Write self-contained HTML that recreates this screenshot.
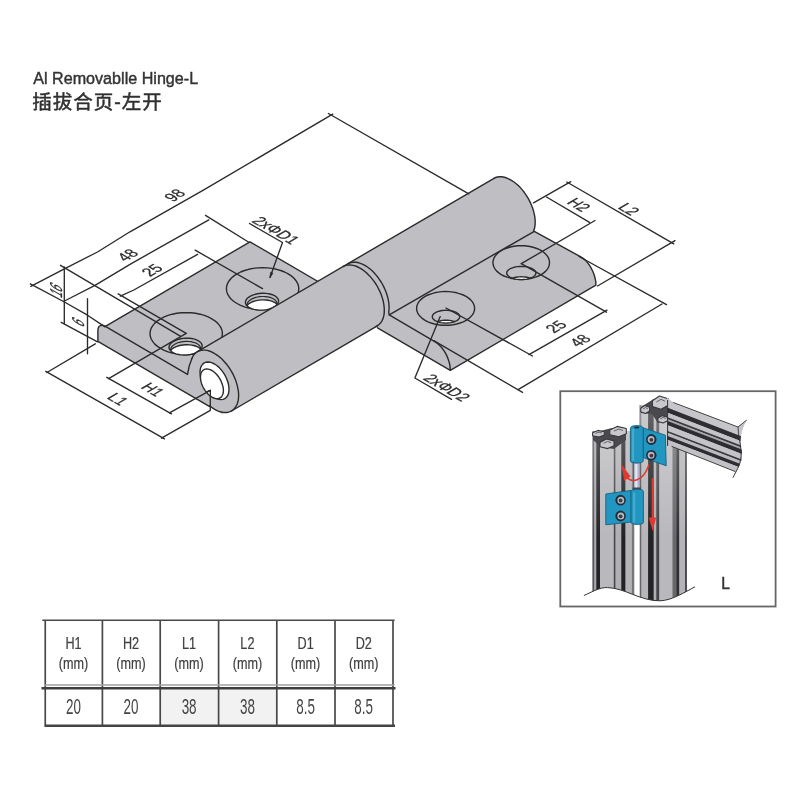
<!DOCTYPE html>
<html><head><meta charset="utf-8"><title>Al Removable Hinge-L</title>
<style>
html,body{margin:0;padding:0;background:#fff;}
body{width:800px;height:800px;overflow:hidden;font-family:"Liberation Sans",sans-serif;}
svg{display:block;filter:blur(0.5px);}
text{font-family:"Liberation Sans",sans-serif;}
</style></head><body>
<svg width="800" height="800" viewBox="0 0 800 800">
<rect width="800" height="800" fill="#fff"/>
<g><text id="ttl" transform="translate(33.2,84.4) scale(0.928,1)" font-size="17.4" fill="#333" stroke="#333" stroke-width="0.45">Al Removablle Hinge-L</text>
<g id="cjk" fill="#303030" stroke="#303030" stroke-width="0.5" stroke-linejoin="round">
<text x="32.3" y="109.1" font-size="19.5" textLength="129.5" lengthAdjust="spacing" style="font-family:'Liberation Sans','Noto Sans CJK SC',sans-serif;">插拔合页-左开</text>
</g></g>
<g><path d="M105.4,326.3 L105.4,326.3 L103.9,325.6 L102.5,325.3 L101.2,325.4 L100.1,325.8 L99.1,326.5 L98.4,327.6 L98.0,329.0 L97.9,330.6 L97.9,341.3 L223.1,414.5 L223.1,395.1 Z" fill="#bfbec3" stroke="none" stroke-width="1.40" stroke-linejoin="round"/>
<path d="M105.4,326.3 L250.0,241.8 L359.1,305.6 L214.5,390.1 Z" fill="#bfbec3" stroke="none" stroke-width="1.40" stroke-linejoin="round"/>
<path d="M187.5,374.4 L105.4,326.3 L105.4,326.3 L103.9,325.6 L102.5,325.3 L101.2,325.4 L100.1,325.8 L99.1,326.5 L98.4,327.6 L98.0,329.0 L97.9,330.6 L97.9,341.3 L209.3,406.4" fill="none" stroke="#2b2b2b" stroke-width="1.40" stroke-linejoin="round" stroke-linecap="round" />
<path d="M105.4,326.3 L250.0,241.8 L341.9,295.5" fill="none" stroke="#2b2b2b" stroke-width="1.40" stroke-linejoin="round" stroke-linecap="round" />
<path d="M222.4,333.6 L222.1,336.3 L221.2,339.0 L219.6,341.6 L217.6,344.1 L214.9,346.4 L211.8,348.4 L208.2,350.3 L204.3,351.8 L200.1,353.0 L195.6,353.9 L190.9,354.4 L186.2,354.6 L181.5,354.4 L176.8,353.9 L172.3,353.0 L168.1,351.8 L164.2,350.3 L160.6,348.4 L157.5,346.4 L154.8,344.1 L152.8,341.6 L151.2,339.0 L150.3,336.3 L150.0,333.6 L150.3,330.9 L151.2,328.2 L152.8,325.6 L154.8,323.1 L157.5,320.8 L160.6,318.8 L164.2,316.9 L168.1,315.4 L172.3,314.2 L176.8,313.3 L181.5,312.8 L186.2,312.6 L190.9,312.8 L195.6,313.3 L200.1,314.2 L204.3,315.4 L208.2,316.9 L211.8,318.8 L214.9,320.8 L217.6,323.1 L219.6,325.6 L221.2,328.2 L222.1,330.9 L222.4,333.6 Z" fill="none" stroke="#2b2b2b" stroke-width="1.40" stroke-linejoin="round" stroke-linecap="round" />
<clipPath id="h1"><path d="M202.2,345.7 L202.1,346.8 L201.7,347.9 L201.1,349.0 L200.2,350.0 L199.0,351.0 L197.6,351.9 L196.0,352.7 L194.3,353.4 L192.3,354.0 L190.3,354.5 L188.2,354.8 L186.0,355.0 L183.9,355.0 L181.7,354.9 L179.7,354.7 L177.7,354.3 L175.9,353.8 L174.2,353.1 L172.7,352.4 L171.5,351.5 L170.5,350.6 L169.7,349.6 L169.2,348.6 L169.0,347.5 L169.1,346.4 L169.5,345.3 L170.1,344.2 L171.0,343.2 L172.2,342.2 L173.6,341.3 L175.2,340.5 L176.9,339.8 L178.9,339.2 L180.9,338.7 L183.0,338.4 L185.2,338.2 L187.3,338.2 L189.5,338.3 L191.5,338.5 L193.5,338.9 L195.3,339.4 L197.0,340.1 L198.5,340.8 L199.7,341.7 L200.7,342.6 L201.5,343.6 L202.0,344.6 L202.2,345.7 Z"/></clipPath>
<path d="M202.2,352.3 L202.1,353.4 L201.7,354.5 L201.1,355.6 L200.2,356.6 L199.0,357.6 L197.6,358.5 L196.0,359.3 L194.3,360.0 L192.3,360.6 L190.3,361.1 L188.2,361.4 L186.0,361.6 L183.9,361.6 L181.7,361.5 L179.7,361.3 L177.7,360.9 L175.9,360.4 L174.2,359.7 L172.7,359.0 L171.5,358.1 L170.5,357.2 L169.7,356.2 L169.2,355.2 L169.0,354.1 L169.1,353.0 L169.5,351.9 L170.1,350.8 L171.0,349.8 L172.2,348.8 L173.6,347.9 L175.2,347.1 L176.9,346.4 L178.9,345.8 L180.9,345.3 L183.0,345.0 L185.2,344.8 L187.3,344.8 L189.5,344.9 L191.5,345.1 L193.5,345.5 L195.3,346.0 L197.0,346.7 L198.5,347.4 L199.7,348.3 L200.7,349.2 L201.5,350.2 L202.0,351.2 L202.2,352.3 Z" fill="#fff" clip-path="url(#h1)" stroke="#2b2b2b" stroke-width="1.40"/>
<path d="M200.6,348.4 L200.5,349.4 L200.2,350.5 L199.6,351.5 L198.8,352.4 L197.7,353.3 L196.5,354.2 L195.0,354.9 L193.4,355.6 L191.7,356.1 L189.9,356.5 L188.0,356.8 L186.0,357.0 L184.0,357.0 L182.1,356.9 L180.2,356.7 L178.5,356.3 L176.8,355.9 L175.3,355.3 L174.0,354.6 L172.8,353.8 L171.9,352.9 L171.2,352.0 L170.8,351.0 L170.6,350.0 L170.7,349.0 L171.0,347.9 L171.6,346.9 L172.4,346.0 L173.5,345.1 L174.7,344.2 L176.2,343.5 L177.8,342.8 L179.5,342.3 L181.3,341.9 L183.2,341.6 L185.2,341.4 L187.2,341.4 L189.1,341.5 L191.0,341.7 L192.7,342.1 L194.4,342.5 L195.9,343.1 L197.2,343.8 L198.4,344.6 L199.3,345.5 L200.0,346.4 L200.4,347.4 L200.6,348.4 Z" fill="none" clip-path="url(#h1)" stroke="#2b2b2b" stroke-width="1.19"/>
<path d="M202.2,345.7 L202.1,346.8 L201.7,347.9 L201.1,349.0 L200.2,350.0 L199.0,351.0 L197.6,351.9 L196.0,352.7 L194.3,353.4 L192.3,354.0 L190.3,354.5 L188.2,354.8 L186.0,355.0 L183.9,355.0 L181.7,354.9 L179.7,354.7 L177.7,354.3 L175.9,353.8 L174.2,353.1 L172.7,352.4 L171.5,351.5 L170.5,350.6 L169.7,349.6 L169.2,348.6 L169.0,347.5 L169.1,346.4 L169.5,345.3 L170.1,344.2 L171.0,343.2 L172.2,342.2 L173.6,341.3 L175.2,340.5 L176.9,339.8 L178.9,339.2 L180.9,338.7 L183.0,338.4 L185.2,338.2 L187.3,338.2 L189.5,338.3 L191.5,338.5 L193.5,338.9 L195.3,339.4 L197.0,340.1 L198.5,340.8 L199.7,341.7 L200.7,342.6 L201.5,343.6 L202.0,344.6 L202.2,345.7 Z" fill="none" stroke="#2b2b2b" stroke-width="1.40" stroke-linejoin="round" stroke-linecap="round" />
<path d="M298.8,288.7 L298.5,291.4 L297.6,294.1 L296.0,296.7 L294.0,299.2 L291.3,301.5 L288.2,303.5 L284.6,305.4 L280.7,306.9 L276.5,308.1 L272.0,309.0 L267.3,309.5 L262.6,309.7 L257.9,309.5 L253.2,309.0 L248.7,308.1 L244.5,306.9 L240.6,305.4 L237.0,303.5 L233.9,301.5 L231.2,299.2 L229.2,296.7 L227.6,294.1 L226.7,291.4 L226.4,288.7 L226.7,286.0 L227.6,283.3 L229.2,280.7 L231.2,278.2 L233.9,275.9 L237.0,273.9 L240.6,272.0 L244.5,270.5 L248.7,269.3 L253.2,268.4 L257.9,267.9 L262.6,267.7 L267.3,267.9 L272.0,268.4 L276.5,269.3 L280.7,270.5 L284.6,272.0 L288.2,273.9 L291.3,275.9 L294.0,278.2 L296.0,280.7 L297.6,283.3 L298.5,286.0 L298.8,288.7 Z" fill="none" stroke="#2b2b2b" stroke-width="1.40" stroke-linejoin="round" stroke-linecap="round" />
<clipPath id="h2"><path d="M278.6,300.8 L278.5,301.9 L278.1,303.0 L277.5,304.1 L276.6,305.1 L275.4,306.1 L274.0,307.0 L272.4,307.8 L270.7,308.5 L268.7,309.1 L266.7,309.6 L264.6,309.9 L262.4,310.1 L260.3,310.1 L258.1,310.0 L256.1,309.8 L254.1,309.4 L252.3,308.9 L250.6,308.2 L249.1,307.5 L247.9,306.6 L246.9,305.7 L246.1,304.7 L245.6,303.7 L245.4,302.6 L245.5,301.5 L245.9,300.4 L246.5,299.3 L247.4,298.3 L248.6,297.3 L250.0,296.4 L251.6,295.6 L253.3,294.9 L255.3,294.3 L257.3,293.8 L259.4,293.5 L261.6,293.3 L263.7,293.3 L265.9,293.4 L267.9,293.6 L269.9,294.0 L271.7,294.5 L273.4,295.2 L274.9,295.9 L276.1,296.8 L277.1,297.7 L277.9,298.7 L278.4,299.7 L278.6,300.8 Z"/></clipPath>
<path d="M278.6,307.4 L278.5,308.5 L278.1,309.6 L277.5,310.7 L276.6,311.7 L275.4,312.7 L274.0,313.6 L272.4,314.4 L270.7,315.1 L268.7,315.7 L266.7,316.2 L264.6,316.5 L262.4,316.7 L260.3,316.7 L258.1,316.6 L256.1,316.4 L254.1,316.0 L252.3,315.5 L250.6,314.8 L249.1,314.1 L247.9,313.2 L246.9,312.3 L246.1,311.3 L245.6,310.3 L245.4,309.2 L245.5,308.1 L245.9,307.0 L246.5,305.9 L247.4,304.9 L248.6,303.9 L250.0,303.0 L251.6,302.2 L253.3,301.5 L255.3,300.9 L257.3,300.4 L259.4,300.1 L261.6,299.9 L263.7,299.9 L265.9,300.0 L267.9,300.2 L269.9,300.6 L271.7,301.1 L273.4,301.8 L274.9,302.5 L276.1,303.4 L277.1,304.3 L277.9,305.3 L278.4,306.3 L278.6,307.4 Z" fill="#fff" clip-path="url(#h2)" stroke="#2b2b2b" stroke-width="1.40"/>
<path d="M277.0,303.5 L276.9,304.5 L276.6,305.6 L276.0,306.6 L275.2,307.5 L274.1,308.4 L272.9,309.3 L271.4,310.0 L269.8,310.7 L268.1,311.2 L266.3,311.6 L264.4,311.9 L262.4,312.1 L260.4,312.1 L258.5,312.0 L256.6,311.8 L254.9,311.4 L253.2,311.0 L251.7,310.4 L250.4,309.7 L249.2,308.9 L248.3,308.0 L247.6,307.1 L247.2,306.1 L247.0,305.1 L247.1,304.1 L247.4,303.0 L248.0,302.0 L248.8,301.1 L249.9,300.2 L251.1,299.3 L252.6,298.6 L254.2,297.9 L255.9,297.4 L257.7,297.0 L259.6,296.7 L261.6,296.5 L263.6,296.5 L265.5,296.6 L267.4,296.8 L269.1,297.2 L270.8,297.6 L272.3,298.2 L273.6,298.9 L274.8,299.7 L275.7,300.6 L276.4,301.5 L276.8,302.5 L277.0,303.5 Z" fill="none" clip-path="url(#h2)" stroke="#2b2b2b" stroke-width="1.19"/>
<path d="M278.6,300.8 L278.5,301.9 L278.1,303.0 L277.5,304.1 L276.6,305.1 L275.4,306.1 L274.0,307.0 L272.4,307.8 L270.7,308.5 L268.7,309.1 L266.7,309.6 L264.6,309.9 L262.4,310.1 L260.3,310.1 L258.1,310.0 L256.1,309.8 L254.1,309.4 L252.3,308.9 L250.6,308.2 L249.1,307.5 L247.9,306.6 L246.9,305.7 L246.1,304.7 L245.6,303.7 L245.4,302.6 L245.5,301.5 L245.9,300.4 L246.5,299.3 L247.4,298.3 L248.6,297.3 L250.0,296.4 L251.6,295.6 L253.3,294.9 L255.3,294.3 L257.3,293.8 L259.4,293.5 L261.6,293.3 L263.7,293.3 L265.9,293.4 L267.9,293.6 L269.9,294.0 L271.7,294.5 L273.4,295.2 L274.9,295.9 L276.1,296.8 L277.1,297.7 L277.9,298.7 L278.4,299.7 L278.6,300.8 Z" fill="none" stroke="#2b2b2b" stroke-width="1.40" stroke-linejoin="round" stroke-linecap="round" />
<path d="M389.2,314.8 L534.3,231.3 L580.8,256.8 L580.8,256.8 L583.2,258.4 L585.5,260.4 L587.7,262.9 L589.7,265.7 L591.5,268.7 L593.1,272.0 L594.3,275.3 L595.2,278.7 L595.8,282.0 L595.9,285.2 L450.3,370.3 L374.1,325.8 L374.1,306.2 Z" fill="#bfbec3" stroke="none" stroke-width="1.40" stroke-linejoin="round"/>
<path d="M534.3,231.3 L580.8,256.8 L580.8,256.8 L583.2,258.4 L585.5,260.4 L587.7,262.9 L589.7,265.7 L591.5,268.7 L593.1,272.0 L594.3,275.3 L595.2,278.7 L595.8,282.0 L595.9,285.2 L450.3,370.3 L377.5,327.8" fill="none" stroke="#2b2b2b" stroke-width="1.40" stroke-linejoin="round" stroke-linecap="round" />
<path d="M389.2,314.8 L435.2,341.9 L435.2,341.9 L437.5,343.5 L439.9,345.6 L442.0,348.0 L444.1,350.8 L445.9,353.9 L447.4,357.1 L448.6,360.4 L449.6,363.8 L450.1,367.1 L450.3,370.3" fill="none" stroke="#2b2b2b" stroke-width="1.40" stroke-linejoin="round" stroke-linecap="round" />
<path d="M474.6,308.4 L474.4,310.6 L473.6,312.8 L472.4,314.9 L470.7,316.8 L468.6,318.7 L466.1,320.4 L463.3,321.8 L460.1,323.0 L456.7,324.0 L453.1,324.7 L449.4,325.2 L445.6,325.3 L441.8,325.2 L438.1,324.7 L434.5,324.0 L431.1,323.0 L427.9,321.8 L425.1,320.4 L422.6,318.7 L420.5,316.8 L418.8,314.9 L417.6,312.8 L416.8,310.6 L416.6,308.4 L416.8,306.2 L417.6,304.0 L418.8,301.9 L420.5,299.9 L422.6,298.1 L425.1,296.4 L427.9,295.0 L431.1,293.8 L434.5,292.8 L438.1,292.1 L441.8,291.6 L445.6,291.5 L449.4,291.6 L453.1,292.1 L456.7,292.8 L460.1,293.8 L463.3,295.0 L466.1,296.4 L468.6,298.1 L470.7,299.9 L472.4,301.9 L473.6,304.0 L474.4,306.2 L474.6,308.4 Z" fill="none" stroke="#2b2b2b" stroke-width="1.40" stroke-linejoin="round" stroke-linecap="round" />
<clipPath id="h3"><path d="M459.7,316.7 L459.6,317.5 L459.2,318.4 L458.7,319.1 L457.9,319.9 L456.9,320.6 L455.7,321.2 L454.3,321.8 L452.9,322.2 L451.2,322.6 L449.5,322.9 L447.8,323.0 L446.0,323.1 L444.2,323.0 L442.5,322.9 L440.8,322.6 L439.1,322.2 L437.7,321.8 L436.3,321.2 L435.1,320.6 L434.1,319.9 L433.3,319.1 L432.8,318.4 L432.4,317.5 L432.3,316.7 L432.4,315.9 L432.8,315.0 L433.3,314.3 L434.1,313.5 L435.1,312.8 L436.3,312.2 L437.7,311.6 L439.1,311.2 L440.8,310.8 L442.5,310.5 L444.2,310.4 L446.0,310.3 L447.8,310.4 L449.5,310.5 L451.2,310.8 L452.9,311.2 L454.3,311.6 L455.7,312.2 L456.9,312.8 L457.9,313.5 L458.7,314.3 L459.2,315.0 L459.6,315.9 L459.7,316.7 Z"/></clipPath>
<path d="M459.7,326.6 L459.6,327.4 L459.2,328.3 L458.7,329.0 L457.9,329.8 L456.9,330.5 L455.7,331.1 L454.3,331.7 L452.9,332.1 L451.2,332.5 L449.5,332.8 L447.8,332.9 L446.0,333.0 L444.2,332.9 L442.5,332.8 L440.8,332.5 L439.1,332.1 L437.7,331.7 L436.3,331.1 L435.1,330.5 L434.1,329.8 L433.3,329.0 L432.8,328.3 L432.4,327.4 L432.3,326.6 L432.4,325.8 L432.8,324.9 L433.3,324.2 L434.1,323.4 L435.1,322.7 L436.3,322.1 L437.7,321.5 L439.1,321.1 L440.8,320.7 L442.5,320.4 L444.2,320.3 L446.0,320.2 L447.8,320.3 L449.5,320.4 L451.2,320.7 L452.9,321.1 L454.3,321.5 L455.7,322.1 L456.9,322.7 L457.9,323.4 L458.7,324.2 L459.2,324.9 L459.6,325.8 L459.7,326.6 Z" fill="#fff" clip-path="url(#h3)" stroke="#2b2b2b" stroke-width="1.40"/>
<path d="M459.7,316.7 L459.6,317.5 L459.2,318.4 L458.7,319.1 L457.9,319.9 L456.9,320.6 L455.7,321.2 L454.3,321.8 L452.9,322.2 L451.2,322.6 L449.5,322.9 L447.8,323.0 L446.0,323.1 L444.2,323.0 L442.5,322.9 L440.8,322.6 L439.1,322.2 L437.7,321.8 L436.3,321.2 L435.1,320.6 L434.1,319.9 L433.3,319.1 L432.8,318.4 L432.4,317.5 L432.3,316.7 L432.4,315.9 L432.8,315.0 L433.3,314.3 L434.1,313.5 L435.1,312.8 L436.3,312.2 L437.7,311.6 L439.1,311.2 L440.8,310.8 L442.5,310.5 L444.2,310.4 L446.0,310.3 L447.8,310.4 L449.5,310.5 L451.2,310.8 L452.9,311.2 L454.3,311.6 L455.7,312.2 L456.9,312.8 L457.9,313.5 L458.7,314.3 L459.2,315.0 L459.6,315.9 L459.7,316.7 Z" fill="none" stroke="#2b2b2b" stroke-width="1.40" stroke-linejoin="round" stroke-linecap="round" />
<path d="M549.5,262.6 L549.3,264.8 L548.6,267.0 L547.4,269.1 L545.8,271.1 L543.7,272.9 L541.3,274.6 L538.5,276.0 L535.4,277.2 L532.1,278.2 L528.6,278.9 L524.9,279.4 L521.2,279.5 L517.6,279.4 L513.9,278.9 L510.4,278.2 L507.1,277.2 L504.0,276.0 L501.2,274.6 L498.8,272.9 L496.7,271.1 L495.1,269.1 L493.9,267.0 L493.2,264.8 L492.9,262.6 L493.2,260.4 L493.9,258.2 L495.1,256.1 L496.7,254.2 L498.8,252.3 L501.2,250.6 L504.0,249.2 L507.1,248.0 L510.4,247.0 L513.9,246.3 L517.6,245.8 L521.2,245.7 L524.9,245.8 L528.6,246.3 L532.1,247.0 L535.4,248.0 L538.5,249.2 L541.3,250.6 L543.7,252.3 L545.8,254.2 L547.4,256.1 L548.6,258.2 L549.3,260.4 L549.5,262.6 Z" fill="none" stroke="#2b2b2b" stroke-width="1.40" stroke-linejoin="round" stroke-linecap="round" />
<clipPath id="h4"><path d="M535.9,273.0 L535.8,273.9 L535.4,274.7 L534.8,275.5 L533.9,276.3 L532.9,277.0 L531.6,277.7 L530.2,278.2 L528.6,278.7 L526.9,279.1 L525.1,279.4 L523.2,279.5 L521.3,279.6 L519.4,279.5 L517.5,279.4 L515.7,279.1 L514.0,278.7 L512.4,278.2 L511.0,277.7 L509.7,277.0 L508.7,276.3 L507.8,275.5 L507.2,274.7 L506.8,273.9 L506.7,273.0 L506.8,272.1 L507.2,271.3 L507.8,270.5 L508.7,269.7 L509.7,269.0 L511.0,268.3 L512.4,267.8 L514.0,267.3 L515.7,266.9 L517.5,266.6 L519.4,266.5 L521.3,266.4 L523.2,266.5 L525.1,266.6 L526.9,266.9 L528.6,267.3 L530.2,267.8 L531.6,268.3 L532.9,269.0 L533.9,269.7 L534.8,270.5 L535.4,271.3 L535.8,272.1 L535.9,273.0 Z"/></clipPath>
<path d="M535.9,283.4 L535.8,284.3 L535.4,285.1 L534.8,285.9 L533.9,286.7 L532.9,287.4 L531.6,288.1 L530.2,288.6 L528.6,289.1 L526.9,289.5 L525.1,289.8 L523.2,289.9 L521.3,290.0 L519.4,289.9 L517.5,289.8 L515.7,289.5 L514.0,289.1 L512.4,288.6 L511.0,288.1 L509.7,287.4 L508.7,286.7 L507.8,285.9 L507.2,285.1 L506.8,284.3 L506.7,283.4 L506.8,282.5 L507.2,281.7 L507.8,280.9 L508.7,280.1 L509.7,279.4 L511.0,278.7 L512.4,278.2 L514.0,277.7 L515.7,277.3 L517.5,277.0 L519.4,276.9 L521.3,276.8 L523.2,276.9 L525.1,277.0 L526.9,277.3 L528.6,277.7 L530.2,278.2 L531.6,278.7 L532.9,279.4 L533.9,280.1 L534.8,280.9 L535.4,281.7 L535.8,282.5 L535.9,283.4 Z" fill="#fff" clip-path="url(#h4)" stroke="#2b2b2b" stroke-width="1.40"/>
<path d="M535.9,273.0 L535.8,273.9 L535.4,274.7 L534.8,275.5 L533.9,276.3 L532.9,277.0 L531.6,277.7 L530.2,278.2 L528.6,278.7 L526.9,279.1 L525.1,279.4 L523.2,279.5 L521.3,279.6 L519.4,279.5 L517.5,279.4 L515.7,279.1 L514.0,278.7 L512.4,278.2 L511.0,277.7 L509.7,277.0 L508.7,276.3 L507.8,275.5 L507.2,274.7 L506.8,273.9 L506.7,273.0 L506.8,272.1 L507.2,271.3 L507.8,270.5 L508.7,269.7 L509.7,269.0 L511.0,268.3 L512.4,267.8 L514.0,267.3 L515.7,266.9 L517.5,266.6 L519.4,266.5 L521.3,266.4 L523.2,266.5 L525.1,266.6 L526.9,266.9 L528.6,267.3 L530.2,267.8 L531.6,268.3 L532.9,269.0 L533.9,269.7 L534.8,270.5 L535.4,271.3 L535.8,272.1 L535.9,273.0 Z" fill="none" stroke="#2b2b2b" stroke-width="1.40" stroke-linejoin="round" stroke-linecap="round" />
<path d="M197.5,351.6 L195.8,352.8 L194.3,354.3 L193.0,356.1 L192.0,358.2 L191.2,360.5 L190.7,363.0 L190.4,365.8 L190.4,368.7 L190.7,371.8 L191.2,374.9 L192.0,378.2 L193.0,381.4 L194.3,384.7 L195.8,387.9 L197.5,391.1 L199.3,394.1 L201.4,397.0 L203.6,399.8 L205.9,402.3 L208.3,404.6 L210.7,406.7 L213.2,408.4 L215.8,409.9 L218.3,411.1 L220.7,411.9 L223.1,412.4 L225.4,412.5 L227.6,412.4 L229.7,411.8 L231.5,411.0 L377.3,325.8 L379.0,324.6 L380.4,323.1 L381.7,321.3 L382.7,319.3 L383.5,317.0 L384.0,314.4 L384.3,311.7 L384.3,308.7 L384.0,305.7 L383.5,302.5 L382.7,299.3 L381.7,296.0 L380.4,292.7 L379.0,289.5 L377.3,286.4 L375.4,283.3 L373.4,280.4 L371.2,277.7 L368.9,275.1 L366.5,272.8 L364.0,270.8 L361.5,269.0 L359.0,267.5 L356.5,266.4 L354.0,265.5 L351.6,265.0 L349.3,264.9 L347.1,265.1 L345.1,265.6 L343.2,266.5 Z" fill="#bfbec3" stroke="none" stroke-width="1.40" stroke-linejoin="round"/>
<path d="M342.3,267.0 L343.9,266.2 L345.5,265.7 L347.2,265.4 L349.0,265.4 L350.9,265.6 L352.9,266.0 L354.9,266.6 L356.9,267.5 L359.0,268.5 L361.1,269.8 L363.1,271.3 L365.1,272.9 L367.1,274.7 L369.0,276.7 L370.9,278.8 L372.6,281.1 L374.3,283.5 L375.9,285.9 L377.3,288.5 L378.6,291.1 L379.8,293.7 L380.8,296.4 L381.7,299.1 L382.4,301.7 L382.9,304.3 L383.3,306.9 L383.4,309.4 L383.4,311.8 L383.3,314.1 L382.9,316.2 L389.2,314.8 L534.3,231.3 L533.6,231.1 L534.3,229.1 L534.8,227.0 L535.1,224.6 L535.2,222.2 L535.1,219.6 L534.8,216.9 L534.3,214.2 L533.6,211.4 L532.8,208.5 L531.7,205.7 L530.5,202.9 L529.1,200.1 L527.6,197.4 L526.0,194.8 L524.2,192.3 L522.3,189.9 L520.3,187.6 L518.3,185.6 L516.2,183.7 L514.0,182.0 L511.8,180.6 L509.6,179.3 L507.5,178.3 L505.3,177.5 L503.2,177.0 L501.2,176.8 L499.3,176.8 L497.4,177.0 L495.7,177.5 L494.0,178.3 Z" fill="#bfbec3" stroke="none" stroke-width="1.40" stroke-linejoin="round"/>
<path d="M197.5,351.6 L494.0,178.3" fill="none" stroke="#2b2b2b" stroke-width="1.40" stroke-linejoin="round" stroke-linecap="round" />
<path d="M231.5,411.0 L377.3,325.8" fill="none" stroke="#2b2b2b" stroke-width="1.40" stroke-linejoin="round" stroke-linecap="round" />
<path d="M534.3,231.3 L533.6,231.1 L534.3,229.1 L534.8,227.0 L535.1,224.6 L535.2,222.2 L535.1,219.6 L534.8,216.9 L534.3,214.2 L533.6,211.4 L532.8,208.5 L531.7,205.7 L530.5,202.9 L529.1,200.1 L527.6,197.4 L526.0,194.8 L524.2,192.3 L522.3,189.9 L520.3,187.6 L518.3,185.6 L516.2,183.7 L514.0,182.0 L511.8,180.6 L509.6,179.3 L507.5,178.3 L505.3,177.5 L503.2,177.0 L501.2,176.8 L499.3,176.8 L497.4,177.0 L495.7,177.5 L494.0,178.3" fill="none" stroke="#2b2b2b" stroke-width="1.40" stroke-linejoin="round" stroke-linecap="round" />
<path d="M375.7,326.6 L377.6,325.6 L379.3,324.3 L380.8,322.7 L382.0,320.8 L383.0,318.6 L383.7,316.1 L384.2,313.4 L384.3,310.5 L384.2,307.5 L383.8,304.3 L383.2,301.0 L382.2,297.6 L381.1,294.3 L379.6,290.9 L378.0,287.7 L376.2,284.5 L374.1,281.4 L371.9,278.6 L369.6,275.9 L367.1,273.4 L364.6,271.3 L362.1,269.4 L359.5,267.8 L356.9,266.5 L354.3,265.6 L351.9,265.1 L349.5,264.9 L347.2,265.1 L345.1,265.6 L343.2,266.5" fill="none" stroke="#2b2b2b" stroke-width="1.40" stroke-linejoin="round" stroke-linecap="round" />
<path d="M389.2,314.8 L388.7,312.1 L389.0,309.9 L389.1,307.6 L389.0,305.2 L388.8,302.7 L388.3,300.2 L387.8,297.6 L387.0,295.0 L386.1,292.3 L385.1,289.7 L383.9,287.1 L382.6,284.5 L381.1,282.0 L379.5,279.6 L377.9,277.3 L376.1,275.1 L374.3,273.0 L372.4,271.1 L370.4,269.3 L368.4,267.7 L366.4,266.3 L364.4,265.1 L362.3,264.1 L360.3,263.3 L358.4,262.7 L356.4,262.3 L354.6,262.1 L352.8,262.2 L351.1,262.5 L349.5,263.0 L348.0,263.7" fill="none" stroke="#2b2b2b" stroke-width="1.40" stroke-linejoin="round" stroke-linecap="round" />
<line x1="389.2" y1="314.8" x2="534.3" y2="231.3" stroke="#2b2b2b" stroke-width="1.40" />
<path d="M191.9,358.5 L188.3,366.5 L187.5,374.4 L192.0,376.0 L193.0,362.0 Z" fill="#bfbec3" stroke="none" stroke-width="1.40" stroke-linejoin="round"/>
<path d="M209.5,405.7 L211.7,407.3 L213.9,408.8 L216.1,410.1 L218.3,411.1 L220.4,411.8 L222.5,412.3 L224.6,412.5 L226.5,412.5 L228.4,412.2 L230.1,411.7 L231.7,410.9 L233.2,409.8 L234.5,408.5 L235.6,407.0 L236.6,405.3 L237.4,403.4 L238.0,401.3 L238.4,399.0 L238.6,396.6 L238.6,394.0 L238.4,391.3 L237.9,388.6 L237.3,385.8 L236.5,382.9 L235.6,380.1 L234.4,377.2 L233.1,374.4 L231.6,371.7 L230.0,369.0 L228.2,366.4 L226.4,364.0 L224.4,361.7 L222.4,359.5 L220.3,357.6 L218.1,355.8 L215.9,354.3 L213.7,353.0 L211.5,351.9 L209.3,351.0 L207.2,350.4 L205.1,350.1 L203.2,350.1 L201.3,350.3 L199.5,350.7 L197.8,351.4 L196.3,352.4 L194.9,353.6 L193.7,355.0 L192.7,356.7 L191.9,358.5" fill="none" stroke="#2b2b2b" stroke-width="1.40" stroke-linejoin="round" stroke-linecap="round" />
<path d="M191.9,358.5 Q188.6,366 187.5,374.4" fill="none" stroke="#2b2b2b" stroke-width="1.40" stroke-linejoin="round" stroke-linecap="round" />
<path d="M229.0,389.3 L228.8,386.5 L228.3,383.7 L227.4,380.7 L226.2,377.8 L224.8,374.9 L223.0,372.2 L221.1,369.7 L219.0,367.4 L216.8,365.5 L214.5,364.0 L212.2,362.9 L210.0,362.2 L207.9,362.0 L206.0,362.2 L204.2,362.9 L202.8,364.1 L201.6,365.6 L200.7,367.5 L200.2,369.8 L200.0,372.3 L200.2,375.1 L200.7,377.9 L201.6,380.9 L202.8,383.8 L204.2,386.7 L206.0,389.4 L207.9,391.9 L210.0,394.2 L212.2,396.1 L214.5,397.6 L216.8,398.7 L219.0,399.4 L221.1,399.6 L223.0,399.4 L224.8,398.7 L226.2,397.5 L227.4,396.0 L228.3,394.1 L228.8,391.8 L229.0,389.3 Z" fill="#fff" stroke="#2b2b2b" stroke-width="1.40" stroke-linejoin="round" stroke-linecap="round" />
<path d="M223.4,390.5 L223.3,388.4 L222.8,386.1 L222.1,383.8 L221.2,381.4 L220.0,379.2 L218.7,377.0 L217.1,375.0 L215.5,373.2 L213.7,371.7 L211.9,370.5 L210.1,369.6 L208.4,369.1 L206.7,368.9 L205.2,369.1 L203.8,369.7 L202.6,370.6 L201.7,371.8 L201.0,373.3 L200.6,375.1 L200.4,377.1 L200.6,379.3 L201.0,381.5 L201.7,383.9 L202.6,386.2 L203.8,388.5 L205.2,390.6 L206.7,392.6 L208.4,394.4 L210.1,395.9 L211.9,397.1 L213.7,398.0 L215.5,398.5 L217.1,398.7 L218.7,398.5 L220.0,398.0 L221.2,397.1 L222.1,395.8 L222.8,394.3 L223.3,392.5 L223.4,390.5 Z" fill="#fff" stroke="#2b2b2b" stroke-width="1.40" stroke-linejoin="round" stroke-linecap="round" /></g>
<g><g fill="none" stroke="#2b2b2b" stroke-width="1.35" stroke-linecap="round" stroke-linejoin="round">
<polyline points="30.8,286.3 64.4,268.9 97.5,252.0 130.0,231.8 203.8,189.9 332.7,114.2"/>
<line x1="328.4" y1="113.5" x2="468.8" y2="193.8"/>
<polyline points="30.3,283.9 64.4,302.0 87.5,315.2 105.0,326.9"/>
<line x1="64.3" y1="267.0" x2="64.3" y2="323.5"/>
<line x1="87.5" y1="298.7" x2="87.5" y2="353.8"/>
<line x1="60.5" y1="265.3" x2="180.3" y2="336.2"/>
<polyline points="63.5,301.5 95.0,285.4 130.0,264.3 208.8,219.9"/>
<line x1="205.5" y1="215.4" x2="248.8" y2="242.2"/>
<polyline points="120.4,296.1 133.8,290.0 197.6,254.4"/>
<line x1="118.2" y1="293.8" x2="186.2" y2="333.3"/>
<line x1="195.2" y1="250.2" x2="262.5" y2="288.6"/>
<line x1="61.2" y1="322.3" x2="97.5" y2="341.9"/>
<polyline points="108.6,378.7 186.2,333.4"/>
<line x1="106.8" y1="377.3" x2="171.5" y2="413.8"/>
<polyline points="169.5,412.8 210.3,390.3 210.3,410.3 161.5,438.2"/>
<line x1="206.5" y1="391.8" x2="210.3" y2="390.3"/>
<line x1="45.8" y1="371.3" x2="164.5" y2="438.9"/>
<line x1="46.9" y1="372.5" x2="95.3" y2="343.8"/>
<line x1="533.5" y1="202.8" x2="570.8" y2="181.6"/>
<line x1="566.8" y1="182.0" x2="673.8" y2="243.8"/>
<line x1="546.5" y1="197.0" x2="589.5" y2="222.3"/>
<line x1="595.0" y1="220.5" x2="521.3" y2="263.7"/>
<line x1="675.0" y1="240.6" x2="597.5" y2="286.0"/>
<line x1="521.3" y1="263.7" x2="606.5" y2="312.2"/>
<line x1="579.0" y1="256.5" x2="666.5" y2="304.6"/>
<line x1="607.0" y1="310.2" x2="529.0" y2="354.6"/>
<line x1="446.0" y1="308.0" x2="532.5" y2="356.0"/>
<line x1="662.0" y1="304.0" x2="518.5" y2="389.4"/>
<line x1="433.8" y1="340.6" x2="522.5" y2="392.3"/>
<polyline points="440.2,316.6 414.9,378.0 451.5,399.4"/>
<polyline points="270.0,277.5 282.5,242.5 249.5,223.5"/>
</g>
<path d="M270.0,277.5 L272.9,273.2 L270.6,272.4 Z" fill="#2b2b2b" stroke="#2b2b2b" stroke-width="0.8"/>
<text transform="matrix(0.760,-0.444,0.863,0.505,179.6,198.1)" font-size="16.5" class="lbl" text-anchor="middle" fill="#2e2e2e" stroke="#2e2e2e" stroke-width="0.3" >98</text>
<text transform="matrix(0.760,-0.444,0.863,0.505,132.5,258.0)" font-size="16.5" class="lbl" text-anchor="middle" fill="#2e2e2e" stroke="#2e2e2e" stroke-width="0.3" >48</text>
<text transform="matrix(0.760,-0.444,0.863,0.505,157.0,273.0)" font-size="16.5" class="lbl" text-anchor="middle" fill="#2e2e2e" stroke="#2e2e2e" stroke-width="0.3" >25</text>
<text transform="matrix(0.760,-0.444,0.863,0.505,560.9,329.5)" font-size="16.5" class="lbl" text-anchor="middle" fill="#2e2e2e" stroke="#2e2e2e" stroke-width="0.3" >25</text>
<text transform="matrix(0.760,-0.444,0.863,0.505,584.9,343.5)" font-size="16.5" class="lbl" text-anchor="middle" fill="#2e2e2e" stroke="#2e2e2e" stroke-width="0.3" >48</text>
<text transform="matrix(0.760,0.444,-0.863,0.505,148.0,392.5)" font-size="16.5" class="lbl" text-anchor="middle" fill="#2e2e2e" stroke="#2e2e2e" stroke-width="0.3" >H1</text>
<text transform="matrix(0.760,0.444,-0.863,0.505,113.0,402.0)" font-size="16.5" class="lbl" text-anchor="middle" fill="#2e2e2e" stroke="#2e2e2e" stroke-width="0.3" >L1</text>
<text transform="matrix(0.760,0.444,-0.863,0.505,574.0,207.6)" font-size="16.5" class="lbl" text-anchor="middle" fill="#2e2e2e" stroke="#2e2e2e" stroke-width="0.3" >H2</text>
<text transform="matrix(0.760,0.444,-0.863,0.505,624.0,212.0)" font-size="16.5" class="lbl" text-anchor="middle" fill="#2e2e2e" stroke="#2e2e2e" stroke-width="0.3" >L2</text>
<text transform="matrix(0.760,0.444,-0.863,0.505,442.0,390.5)" font-size="16.5" class="lbl" text-anchor="middle" fill="#2e2e2e" stroke="#2e2e2e" stroke-width="0.3" >2xΦD2</text>
<text transform="matrix(0.777,0.454,-0.863,0.505,271.1,233.1)" font-size="16.5" class="lbl" text-anchor="middle" fill="#2e2e2e" stroke="#2e2e2e" stroke-width="0.3" >2xΦD1</text>
<text transform="matrix(0.000,-0.500,0.863,0.505,61.7,293.3)" font-size="20.0" class="lbl" text-anchor="middle" fill="#2e2e2e" stroke="#2e2e2e" stroke-width="0.3" >16</text>
<text transform="matrix(0.000,-0.500,0.863,0.505,84.2,325.1)" font-size="20.0" class="lbl" text-anchor="middle" fill="#2e2e2e" stroke="#2e2e2e" stroke-width="0.3" >6</text></g>
<g><rect x="560.3" y="391.2" width="215.3" height="215.3" fill="#fff" stroke="#666" stroke-width="1.8"/>
<clipPath id="incl"><rect x="561" y="392" width="214" height="214"/></clipPath>
<g clip-path="url(#incl)">
<clipPath id="wv"><path d="M560,380 L583.9,380 L583.9,595.5 C592,592 600,587 607.5,587.6 C625,588 640,601 660,600.8 C672,600.5 685,592 695,586.8 L695,380 L780,380 L780,610 L560,610 Z" clip-rule="evenodd"/></clipPath>
<clipPath id="wv2"><path d="M583.9,380 L583.9,595.5 C592,592 600,587 607.5,587.6 C625,588 640,601 660,600.8 C672,600.5 685,592 695,586.8 L695,380 Z"/></clipPath>
<g clip-path="url(#wv2)">
<rect x="640.7" y="405.0" width="27.3" height="205.0" fill="#b6b6ba"/>
<rect x="668.0" y="440.0" width="18.9" height="170.0" fill="#b6b6ba"/>
<rect x="652.0" y="399.0" width="16.0" height="6.0" fill="#b6b6ba"/>
<rect x="639.4" y="405.0" width="1.9" height="205.0" fill="#666669"/>
<rect x="648.1" y="405.0" width="5.7" height="205.0" fill="#232326"/>
<rect x="653.8" y="399.0" width="2.5" height="211.0" fill="#b0b0b4"/>
<rect x="656.3" y="399.0" width="3.1" height="211.0" fill="#444447"/>
<rect x="659.4" y="399.0" width="8.6" height="211.0" fill="#b9b9bd"/>
<rect x="668.0" y="440.0" width="4.5" height="170.0" fill="#b9b9bd"/>
<rect x="672.5" y="440.0" width="3.8" height="170.0" fill="#68686b"/>
<rect x="676.3" y="440.0" width="3.1" height="170.0" fill="#303033"/>
<rect x="679.4" y="440.0" width="5.6" height="170.0" fill="#b4b4b8"/>
<rect x="685.0" y="440.0" width="1.9" height="170.0" fill="#4a4a4e"/>
<rect x="592.5" y="431.0" width="47.5" height="179.0" fill="#b6b6ba"/>
<rect x="592.5" y="431.0" width="1.9" height="179.0" fill="#555558"/>
<rect x="594.4" y="431.0" width="1.9" height="179.0" fill="#a8a8ac"/>
<rect x="596.3" y="431.0" width="3.7" height="179.0" fill="#242427"/>
<rect x="600.0" y="431.0" width="13.8" height="179.0" fill="#b9b9bd"/>
<rect x="613.8" y="431.0" width="1.8" height="179.0" fill="#444447"/>
<rect x="615.6" y="431.0" width="5.7" height="179.0" fill="#b0b0b4"/>
<rect x="621.3" y="431.0" width="4.3" height="179.0" fill="#232326"/>
<rect x="625.6" y="431.0" width="6.3" height="179.0" fill="#b4b4b8"/>
<rect x="631.9" y="431.0" width="2.5" height="179.0" fill="#777779"/>
<rect x="634.4" y="524.0" width="5.0" height="86.0" fill="#ffffff"/>
<rect x="634.4" y="431.0" width="5.0" height="93.0" fill="#b4b4b8"/>
</g>
<linearGradient id="lg" x1="0" y1="0" x2="0" y2="1"><stop offset="0" stop-color="#fff" stop-opacity="0.32"/><stop offset="1" stop-color="#fff" stop-opacity="0"/></linearGradient>
<rect x="590" y="398" width="100" height="140" fill="url(#lg)" clip-path="url(#wv2)"/>
<path d="M583.9,595.5 C592,592 600,587 607.5,587.6 C625,588 640,601 660,600.8 C672,600.5 685,592 695,586.8" fill="none" stroke="#333" stroke-width="1"/>
<path d="M593,440 L593,433 L604,430 L612,428 L626,430 L626,440 L614,449 L601,447 Z" fill="#4a4a4e"/>
<path d="M592.6,432.7 L597.9,430.4 L604.3,431.7 L604.3,435.0 L599.0,437.0 L592.6,435.7 Z" fill="#c9c9cd" stroke="#38383c" stroke-width="1.1" stroke-linejoin="round"/>
<path d="M595.5,433.4 l3.5,-1.3 l2.9,1.0" fill="none" stroke="#55555a" stroke-width="0.9"/>
<path d="M609.8,430.0 L617.2,426.4 L626.3,428.5 L626.3,433.7 L618.9,436.8 L609.8,434.7 Z" fill="#c9c9cd" stroke="#38383c" stroke-width="1.1" stroke-linejoin="round"/>
<path d="M613.9,431.1 l5.0,-2.1 l4.1,1.6" fill="none" stroke="#55555a" stroke-width="0.9"/>
<path d="M600.0,442.4 L606.3,439.0 L614.0,440.9 L614.0,445.7 L607.7,448.6 L600.0,446.7 Z" fill="#c9c9cd" stroke="#38383c" stroke-width="1.1" stroke-linejoin="round"/>
<path d="M603.5,443.3 l4.2,-1.9 l3.5,1.4" fill="none" stroke="#55555a" stroke-width="0.9"/>
<path d="M641,413 L641,407 L652,400 L660,396.5 L668,399 L668,420 L658,423 L652,414 Z" fill="#4a4a4e"/>
<path d="M640.7,408.3 L644.7,405.6 L649.6,407.2 L649.6,411.1 L645.6,413.4 L640.7,411.8 Z" fill="#c9c9cd" stroke="#38383c" stroke-width="1.1" stroke-linejoin="round"/>
<path d="M642.9,409.1 l2.7,-1.6 l2.2,1.2" fill="none" stroke="#55555a" stroke-width="0.9"/>
<path d="M652.4,400.7 L659.5,396.0 L668.2,398.7 L668.2,405.3 L661.1,409.3 L652.4,406.6 Z" fill="#c9c9cd" stroke="#38383c" stroke-width="1.1" stroke-linejoin="round"/>
<path d="M656.4,402.0 l4.7,-2.7 l4.0,2.0" fill="none" stroke="#55555a" stroke-width="0.9"/>
<path d="M657.9,418.2 L662.2,415.6 L667.5,417.1 L667.5,420.8 L663.2,423.0 L657.9,421.5 Z" fill="#c9c9cd" stroke="#38383c" stroke-width="1.1" stroke-linejoin="round"/>
<path d="M660.3,418.9 l2.9,-1.5 l2.4,1.1" fill="none" stroke="#55555a" stroke-width="0.9"/>
<clipPath id="bm"><path d="M667,398 L673.3,402.5 L738,427 L746.8,420 C741,430 739,440 742,452 C743,462 737,470 732.8,477.8 L735.4,471.6 L671.5,446.3 L667,444 Z"/></clipPath>
<g clip-path="url(#bm)">
<rect x="660" y="390" width="100" height="100" fill="#c2c2c6"/>
<path d="M660.0,394.4 L760.0,432.9 L760.0,443.4 L660.0,404.9 Z" fill="#c6c6ca"/>
<path d="M660.0,404.9 L760.0,443.4 L760.0,448.4 L660.0,409.9 Z" fill="#2e2e32"/>
<path d="M660.0,409.9 L760.0,448.4 L760.0,452.8 L660.0,414.3 Z" fill="#c4c4c8"/>
<path d="M660.0,414.3 L760.0,452.8 L760.0,454.7 L660.0,416.2 Z" fill="#3a3a3e"/>
<path d="M660.0,416.2 L760.0,454.7 L760.0,456.5 L660.0,418.0 Z" fill="#a8a8ac"/>
<path d="M660.0,418.0 L760.0,456.5 L760.0,460.9 L660.0,422.4 Z" fill="#2e2e32"/>
<path d="M660.0,422.4 L760.0,460.9 L760.0,466.5 L660.0,428.0 Z" fill="#c4c4c8"/>
<path d="M660.0,428.0 L760.0,466.5 L760.0,468.4 L660.0,429.9 Z" fill="#3a3a3e"/>
<path d="M660.0,429.9 L760.0,468.4 L760.0,471.5 L660.0,433.0 Z" fill="#bcbcc0"/>
<path d="M660.0,433.0 L760.0,471.5 L760.0,475.3 L660.0,436.8 Z" fill="#2e2e32"/>
<path d="M660.0,436.8 L760.0,475.3 L760.0,485.3 L660.0,446.8 Z" fill="#c2c2c6"/>
</g>
<path d="M673.3,402.5 L738,427 L746.8,420 M738,427 C738,436 741,444 741,452 C742,462 737,470 732.8,477.8 M735.4,471.6 L671.5,446.3" fill="none" stroke="#333" stroke-width="0.9"/>
<line x1="667.6" y1="400" x2="667.6" y2="446" stroke="#333" stroke-width="1"/>
<rect x="633.4" y="461" width="6.8" height="30" fill="#b2b4ca" stroke="#555" stroke-width="0.8"/>
<rect x="635.2" y="464" width="2.2" height="24" fill="#e6e6f2"/>
<rect x="632.6" y="487.5" width="8.4" height="3" fill="#444"/>
<path d="M643,427.8 L665.4,435.2 L666.2,465.8 L643,457.5 Z" fill="#2196c0" stroke="#16607f" stroke-width="0.9"/>
<path d="M630.4,428.5 Q630.4,425.6 636.8,425.6 Q643.2,425.6 643.2,428.5 L643.2,460.8 Q643.2,463 636.8,463 Q630.4,463 630.4,460.8 Z" fill="#2196c0" stroke="#16607f" stroke-width="0.9"/>
<rect x="632" y="429" width="2.2" height="32" fill="#55b3d2" opacity="0.7"/>
<ellipse cx="636.8" cy="427.6" rx="2.6" ry="1" fill="#1d2a33"/>
<ellipse cx="651.3" cy="439.5" rx="5.2" ry="5.4" fill="#1f2e3a"/>
<ellipse cx="651.1" cy="439.5" rx="3.4" ry="3.5" fill="#b4b8c2"/>
<ellipse cx="651.4" cy="439.8" rx="1.9" ry="1.9" fill="#4a3040"/>
<ellipse cx="651.3" cy="455.3" rx="5.2" ry="5.4" fill="#1f2e3a"/>
<ellipse cx="651.1" cy="455.3" rx="3.4" ry="3.5" fill="#b4b8c2"/>
<ellipse cx="651.4" cy="455.6" rx="1.9" ry="1.9" fill="#4a3040"/>
<path d="M605.8,494 L631.2,490.4 L631.2,522 L605.8,524.8 Z" fill="#2196c0" stroke="#16607f" stroke-width="0.9"/>
<path d="M631,491.6 Q631,489.2 637.2,489.2 Q643.4,489.2 643.4,491.6 L643.4,522.2 Q643.4,524.4 637.2,524.4 Q631,524.4 631,522.2 Z" fill="#2196c0" stroke="#16607f" stroke-width="0.9"/>
<rect x="633" y="492.5" width="2.2" height="30" fill="#55b3d2" opacity="0.7"/>
<ellipse cx="620.6" cy="500.2" rx="5.2" ry="5.4" fill="#1f2e3a"/>
<ellipse cx="620.8" cy="500.2" rx="3.4" ry="3.5" fill="#b4b8c2"/>
<ellipse cx="620.6" cy="500.5" rx="1.9" ry="1.9" fill="#3a3a40"/>
<ellipse cx="620.6" cy="516.0" rx="5.2" ry="5.4" fill="#1f2e3a"/>
<ellipse cx="620.8" cy="516.0" rx="3.4" ry="3.5" fill="#b4b8c2"/>
<ellipse cx="620.6" cy="516.3" rx="1.9" ry="1.9" fill="#3a3a40"/>
<path d="M626.5,477.0 C631,482.5 643,483 649,464.5" fill="none" stroke="#e03a30" stroke-width="1.5"/>
<path d="M621.5,464.2 L630.6,476.4 L624.2,480.8 Z" fill="#e03a30"/>
<line x1="652.5" y1="478" x2="652.5" y2="520" stroke="#e03a30" stroke-width="1.6"/>
<path d="M648.8,517.4 L656.2,517.4 L652.6,531 Z" fill="#e03a30"/>
</g>
<text transform="translate(721.2,588.8) scale(0.92,1)" font-size="17" fill="#333" stroke="#333" stroke-width="0.5">L</text></g>
<g><rect x="160.2" y="688.2" width="116.6" height="37.5" fill="#f2f2f2"/>
<line x1="45.25" y1="620.3" x2="45.25" y2="725.7" stroke="#484848" stroke-width="1.7"/>
<line x1="102.40" y1="620.3" x2="102.40" y2="725.7" stroke="#484848" stroke-width="1.7"/>
<line x1="160.20" y1="620.3" x2="160.20" y2="725.7" stroke="#484848" stroke-width="1.7"/>
<line x1="218.60" y1="620.3" x2="218.60" y2="725.7" stroke="#484848" stroke-width="1.7"/>
<line x1="276.80" y1="620.3" x2="276.80" y2="725.7" stroke="#484848" stroke-width="1.7"/>
<line x1="335.00" y1="620.3" x2="335.00" y2="725.7" stroke="#484848" stroke-width="1.7"/>
<line x1="393.00" y1="620.3" x2="393.00" y2="725.7" stroke="#484848" stroke-width="1.7"/>
<line x1="42.3" y1="620.3" x2="394.6" y2="620.3" stroke="#484848" stroke-width="1.5"/>
<line x1="44.5" y1="685.0" x2="394.5" y2="685.0" stroke="#a0a0a0" stroke-width="1.6"/>
<line x1="41.5" y1="688.2" x2="395.5" y2="688.2" stroke="#3e3e3e" stroke-width="2.4"/>
<line x1="44.5" y1="725.7" x2="395" y2="725.7" stroke="#444" stroke-width="2.4"/>
<text class="th" transform="translate(73.5,648.6) scale(0.79,1)" font-size="16" text-anchor="middle" fill="#404040" stroke="#404040" stroke-width="0.2">H1</text>
<text class="th" transform="translate(73.5,668.5) scale(0.79,1)" font-size="16" text-anchor="middle" fill="#404040" stroke="#404040" stroke-width="0.2">(mm)</text>
<text class="td" transform="translate(73.5,714.2) scale(0.625,1)" font-size="21.5" text-anchor="middle" fill="#444">20</text>
<text class="th" transform="translate(131.0,648.6) scale(0.79,1)" font-size="16" text-anchor="middle" fill="#404040" stroke="#404040" stroke-width="0.2">H2</text>
<text class="th" transform="translate(131.0,668.5) scale(0.79,1)" font-size="16" text-anchor="middle" fill="#404040" stroke="#404040" stroke-width="0.2">(mm)</text>
<text class="td" transform="translate(131.0,714.2) scale(0.625,1)" font-size="21.5" text-anchor="middle" fill="#444">20</text>
<text class="th" transform="translate(189.1,648.6) scale(0.79,1)" font-size="16" text-anchor="middle" fill="#404040" stroke="#404040" stroke-width="0.2">L1</text>
<text class="th" transform="translate(189.1,668.5) scale(0.79,1)" font-size="16" text-anchor="middle" fill="#404040" stroke="#404040" stroke-width="0.2">(mm)</text>
<text class="td" transform="translate(189.1,714.2) scale(0.625,1)" font-size="21.5" text-anchor="middle" fill="#444">38</text>
<text class="th" transform="translate(247.4,648.6) scale(0.79,1)" font-size="16" text-anchor="middle" fill="#404040" stroke="#404040" stroke-width="0.2">L2</text>
<text class="th" transform="translate(247.4,668.5) scale(0.79,1)" font-size="16" text-anchor="middle" fill="#404040" stroke="#404040" stroke-width="0.2">(mm)</text>
<text class="td" transform="translate(247.4,714.2) scale(0.625,1)" font-size="21.5" text-anchor="middle" fill="#444">38</text>
<text class="th" transform="translate(305.6,648.6) scale(0.79,1)" font-size="16" text-anchor="middle" fill="#404040" stroke="#404040" stroke-width="0.2">D1</text>
<text class="th" transform="translate(305.6,668.5) scale(0.79,1)" font-size="16" text-anchor="middle" fill="#404040" stroke="#404040" stroke-width="0.2">(mm)</text>
<text class="td" transform="translate(305.6,714.2) scale(0.625,1)" font-size="21.5" text-anchor="middle" fill="#444">8.5</text>
<text class="th" transform="translate(363.7,648.6) scale(0.79,1)" font-size="16" text-anchor="middle" fill="#404040" stroke="#404040" stroke-width="0.2">D2</text>
<text class="th" transform="translate(363.7,668.5) scale(0.79,1)" font-size="16" text-anchor="middle" fill="#404040" stroke="#404040" stroke-width="0.2">(mm)</text>
<text class="td" transform="translate(363.7,714.2) scale(0.625,1)" font-size="21.5" text-anchor="middle" fill="#444">8.5</text></g>
</svg>
</body></html>
